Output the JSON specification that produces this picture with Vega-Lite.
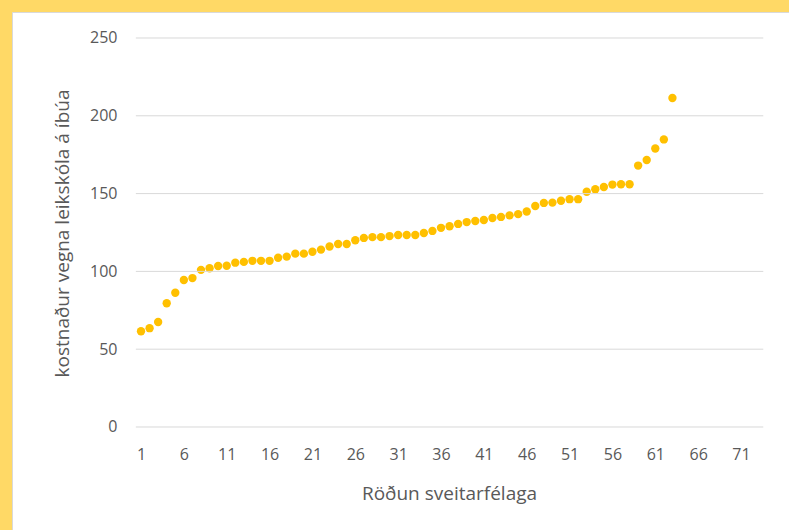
{
  "$schema": "https://vega.github.io/schema/vega-lite/v6.json",
  "autosize": {"type": "none"},
  "width": 778,
  "height": 519,
  "padding": {"top": 12, "left": 12, "right": 0, "bottom": 0},
  "background": "#FFD966",
  "config": {
    "view": {"fill": "#FFFFFF", "stroke": "#D9D9D9", "strokeWidth": 1},
    "font": "Open Sans",
    "axis": {"labelFont": "Open Sans", "titleFont": "Open Sans", "labelColor": "#595959", "titleColor": "#595959", "titleFontWeight": "normal"}
  },
  "layer": [
    {
      "data": {"values": [
        {"r": 1, "v": 61.5}, {"r": 2, "v": 63.5}, {"r": 3, "v": 67.5}, {"r": 4, "v": 79.5}, {"r": 5, "v": 86.3},
        {"r": 6, "v": 94.5}, {"r": 7, "v": 95.7}, {"r": 8, "v": 101}, {"r": 9, "v": 102}, {"r": 10, "v": 103.5},
        {"r": 11, "v": 103.6}, {"r": 12, "v": 105.6}, {"r": 13, "v": 106.1}, {"r": 14, "v": 106.8}, {"r": 15, "v": 106.8},
        {"r": 16, "v": 106.8}, {"r": 17, "v": 108.8}, {"r": 18, "v": 109.5}, {"r": 19, "v": 111.4}, {"r": 20, "v": 111.4},
        {"r": 21, "v": 112.6}, {"r": 22, "v": 114}, {"r": 23, "v": 116}, {"r": 24, "v": 117.6}, {"r": 25, "v": 117.6},
        {"r": 26, "v": 120}, {"r": 27, "v": 121.5}, {"r": 28, "v": 122}, {"r": 29, "v": 122}, {"r": 30, "v": 122.7},
        {"r": 31, "v": 123.4}, {"r": 32, "v": 123.4}, {"r": 33, "v": 123.4}, {"r": 34, "v": 124.7}, {"r": 35, "v": 126},
        {"r": 36, "v": 128}, {"r": 37, "v": 129}, {"r": 38, "v": 130.5}, {"r": 39, "v": 131.7}, {"r": 40, "v": 132.4},
        {"r": 41, "v": 133}, {"r": 42, "v": 134.3}, {"r": 43, "v": 135}, {"r": 44, "v": 136}, {"r": 45, "v": 136.8},
        {"r": 46, "v": 138.5}, {"r": 47, "v": 142}, {"r": 48, "v": 144}, {"r": 49, "v": 144.2}, {"r": 50, "v": 145.4},
        {"r": 51, "v": 146.4}, {"r": 52, "v": 146.4}, {"r": 53, "v": 151.2}, {"r": 54, "v": 152.8}, {"r": 55, "v": 154.2},
        {"r": 56, "v": 155.8}, {"r": 57, "v": 156}, {"r": 58, "v": 156}, {"r": 59, "v": 168}, {"r": 60, "v": 171.6},
        {"r": 61, "v": 179}, {"r": 62, "v": 184.8}, {"r": 63, "v": 211.4}
      ]},
      "mark": {"type": "point", "filled": true, "shape": "circle", "size": 70, "color": "#FFC000", "opacity": 1},
      "encoding": {
        "x": {
          "field": "r", "type": "quantitative",
          "scale": {"domain": [-14.05, 76.6], "nice": false, "zero": false, "range": [0, 777]},
          "axis": {
            "values": [1, 6, 11, 16, 21, 26, 31, 36, 41, 46, 51, 56, 61, 66, 71],
            "title": "Röðun sveitarfélaga",
            "grid": false, "domain": false, "ticks": false, "tickSize": 0,
            "offset": -90, "labelPadding": 5, "labelFontSize": 16,
            "labelOverlap": false, "labelFlush": false, "labelBound": false,
            "titleFontSize": 19, "titleX": 437, "titleY": 52, "titleBaseline": "middle", "titleAlign": "center"
          }
        },
        "y": {
          "field": "v", "type": "quantitative",
          "scale": {"domain": [-66.2, 266.7], "nice": false, "zero": false, "range": [518, 0]},
          "axis": {
            "values": [0, 50, 100, 150, 200, 250],
            "title": "kostnaður vegna leikskóla á íbúa",
            "grid": false, "domain": false, "ticks": false, "tickSize": 0,
            "offset": -105, "labelPadding": 0, "labelFontSize": 16,
            "labelOverlap": false, "labelFlush": false, "labelBound": false,
            "titleFontSize": 19, "titleX": -55, "titleY": 221, "titleAngle": -90, "titleBaseline": "middle", "titleAlign": "center"
          }
        }
      }
    },
    {
      "data": {"values": [{"g": 0}, {"g": 50}, {"g": 100}, {"g": 150}, {"g": 200}, {"g": 250}]},
      "mark": {"type": "rule", "color": "#D9D9D9", "strokeWidth": 1},
      "encoding": {
        "y": {"field": "g", "type": "quantitative"},
        "x": {"datum": 0.4, "type": "quantitative"},
        "x2": {"datum": 73.6}
      }
    }
  ]
}
